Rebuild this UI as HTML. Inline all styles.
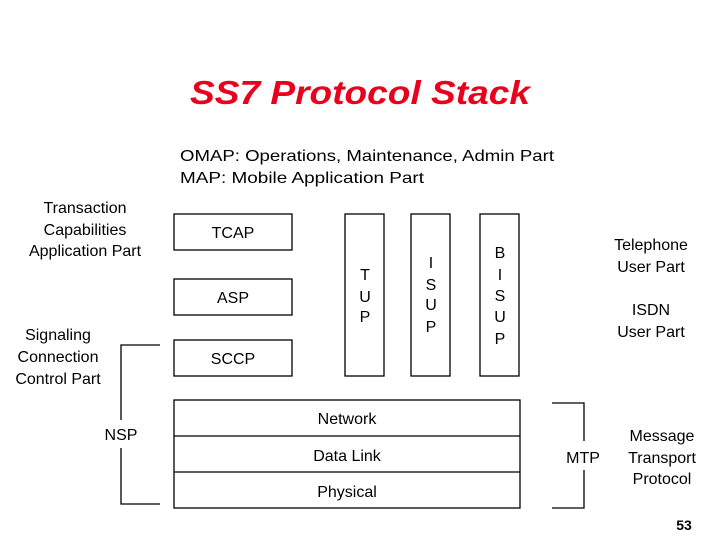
<!DOCTYPE html>
<html><head><meta charset="utf-8"><style>
body{margin:0;background:#fff}
svg text{font-family:"Liberation Sans",sans-serif;fill:#000}
</style></head><body>
<svg width="720" height="540" viewBox="0 0 720 540" xmlns="http://www.w3.org/2000/svg">
<text x="190" y="104" textLength="340" lengthAdjust="spacingAndGlyphs" style="font-size:33px;font-weight:bold;font-style:italic;fill:#e8001c">SS7 Protocol Stack</text>
<text x="180" y="161" font-size="16" textLength="374" lengthAdjust="spacingAndGlyphs">OMAP: Operations, Maintenance, Admin Part</text>
<text x="180" y="183" font-size="16" textLength="244" lengthAdjust="spacingAndGlyphs">MAP: Mobile Application Part</text>
<g font-size="16" text-anchor="middle">
<text x="85" y="213">Transaction</text>
<text x="85" y="235">Capabilities</text>
<text x="85" y="256">Application Part</text>
<text x="58" y="340">Signaling</text>
<text x="58" y="362">Connection</text>
<text x="58" y="384">Control Part</text>
<text x="121" y="440">NSP</text>
<text x="651" y="250">Telephone</text>
<text x="651" y="272">User Part</text>
<text x="651" y="315">ISDN</text>
<text x="651" y="337">User Part</text>
<text x="583" y="463">MTP</text>
<text x="662" y="441">Message</text>
<text x="662" y="463">Transport</text>
<text x="662" y="484">Protocol</text>
</g>
<g fill="none" stroke="#000" stroke-width="1.3">
<rect x="174" y="214" width="118" height="36"/>
<rect x="174" y="279" width="118" height="36"/>
<rect x="174" y="340" width="118" height="36"/>
<rect x="345" y="214" width="39" height="162"/>
<rect x="411" y="214" width="39" height="162"/>
<rect x="480" y="214" width="39" height="162"/>
<rect x="174" y="400" width="346" height="108"/>
<line x1="174" y1="436" x2="520" y2="436"/>
<line x1="174" y1="472" x2="520" y2="472"/>
<polyline points="160,345 121,345 121,420"/>
<polyline points="121,448 121,504 160,504"/>
<polyline points="552,403 584,403 584,441"/>
<polyline points="584,470 584,508 552,508"/>
</g>
<g font-size="16" text-anchor="middle">
<text x="233" y="238">TCAP</text>
<text x="233" y="303">ASP</text>
<text x="233" y="364">SCCP</text>
<text x="365" y="280">T</text><text x="365" y="302">U</text><text x="365" y="322">P</text>
<text x="431" y="268">I</text><text x="431" y="290">S</text><text x="431" y="310">U</text><text x="431" y="332">P</text>
<text x="500" y="258">B</text><text x="500" y="280">I</text><text x="500" y="301">S</text><text x="500" y="322">U</text><text x="500" y="344">P</text>
<text x="347" y="424">Network</text>
<text x="347" y="461">Data Link</text>
<text x="347" y="497">Physical</text>
</g>
<text x="684" y="530" font-size="14" font-weight="bold" text-anchor="middle">53</text>
</svg>
</body></html>
